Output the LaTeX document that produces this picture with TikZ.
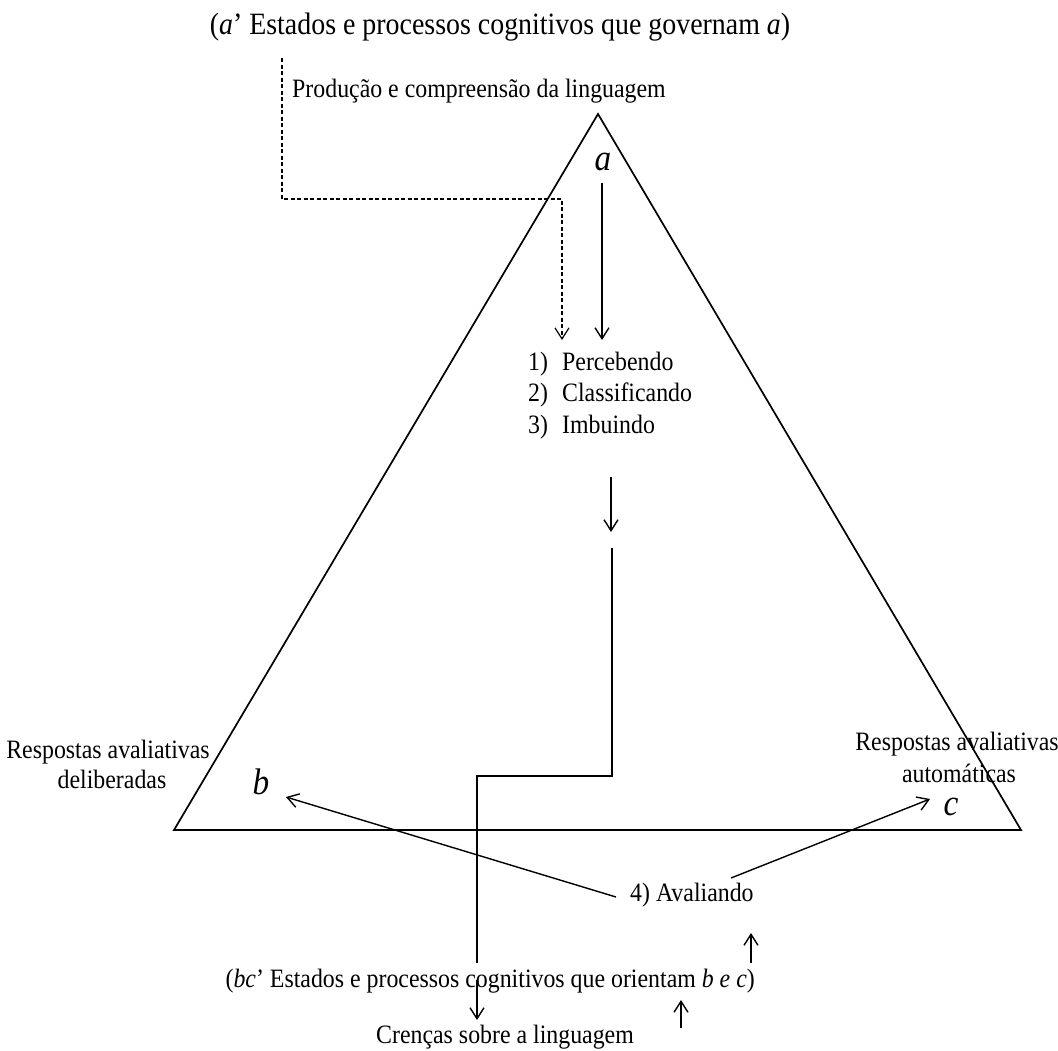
\documentclass[tikz,border=0pt]{standalone}
\usepackage{fontspec}
\setmainfont{Liberation Serif}[FakeStretch=0.9]
\usetikzlibrary{arrows.meta}
\begin{document}
\begin{tikzpicture}[x=1pt,y=-1pt,
  lbl/.style={inner sep=0pt, font=\fontsize{26.5}{30}\selectfont},
  ttl/.style={inner sep=0pt, font=\fontsize{31}{34}\selectfont},
  big/.style={inner sep=0pt, font=\fontsize{37}{40}\selectfont\itshape},
  arr/.style={-{Straight Barb[length=11pt,width=14pt,line width=1.4pt]}, line width=1.4pt},
  ln/.style={line width=1.7pt},
  dsh/.style={line width=1.3pt, dash pattern=on 4pt off 2.5pt}]
\path[use as bounding box, fill=white] (0,0) rectangle (1058,1050);

% triangle
\coordinate (top) at (598,114);
\coordinate (bl) at (174,830);
\coordinate (br) at (1021,830);
\draw[ln, line join=miter] (top) -- (bl) -- (br) -- cycle;

% texts
\node[ttl, anchor=base] (title) at (500,34) {(\textit{a}’ Estados e processos cognitivos que governam \textit{a})};
\node[lbl, anchor=base west] (prod) at (292,97) {Produção e compreensão da linguagem};
\node[big] (a) at (603,162) {a};
\node[big] (b) at (261,782) {b};
\node[big] (c) at (951,807) {c};
\node[lbl, anchor=base west] (p1) at (528,370) {\makebox[34pt][l]{1)}Percebendo};
\node[lbl, anchor=base west] (p2) at (528,401) {\makebox[34pt][l]{2)}Classificando};
\node[lbl, anchor=base west] (p3) at (528,433) {\makebox[34pt][l]{3)}Imbuindo};
\node[lbl, anchor=base] (l1) at (108,758) {Respostas avaliativas};
\node[lbl, anchor=base] (l2) at (112,788) {deliberadas};
\node[lbl, anchor=base] (r1) at (957,750) {Respostas avaliativas};
\node[lbl, anchor=base] (r2) at (959,782) {automáticas};
\node[lbl, anchor=base west] (av) at (630,901) {4) Avaliando};
\node[lbl, anchor=base east] (bc) at (755,987) {(\textit{bc}’ Estados e processos cognitivos que orientam \textit{b e c})};
\node[lbl, anchor=base] (cr) at (505,1043) {Crenças sobre a linguagem};

% dashed connector
\coordinate (d0) at (282,58);
\coordinate (d1) at (562,199);
\coordinate (d2) at (562,340);
\draw[dsh, -{Straight Barb[length=11pt,width=14pt,line width=1.2pt]}] (d0) |- (d1) -- (d2);

% a -> list
\coordinate (a0) at (602,183);
\coordinate (a1) at (602,340);
\draw[arr] (a0) -- (a1);

% short arrow under list
\coordinate (s0) at (611,477);
\coordinate (s1) at (611,532);
\draw[arr] (s0) -- (s1);

% long stepped line
\coordinate (m0) at (612,548);
\coordinate (m1) at (612,776);
\coordinate (m2) at (477,776);
\coordinate (m3) at (477,963);
\draw[ln] (m0) -- (m1) -- (m2) -- (m3);

% down arrow to beliefs
\coordinate (g0) at (477,980);
\coordinate (g1) at (477,1020);
\draw[arr] (g0) -- (g1);

% Avaliando -> b, c
\coordinate (e0) at (616,897);
\coordinate (e1) at (286,797);
\draw[arr] (e0) -- (e1);
\coordinate (f0) at (731,878);
\coordinate (f1) at (930,799);
\draw[arr] (f0) -- (f1);

% up arrows
\coordinate (u0) at (751,963);
\coordinate (u1) at (751,933);
\draw[arr] (u0) -- (u1);
\coordinate (v0) at (681,1028);
\coordinate (v1) at (681,1000);
\draw[arr] (v0) -- (v1);
\end{tikzpicture}
\end{document}
